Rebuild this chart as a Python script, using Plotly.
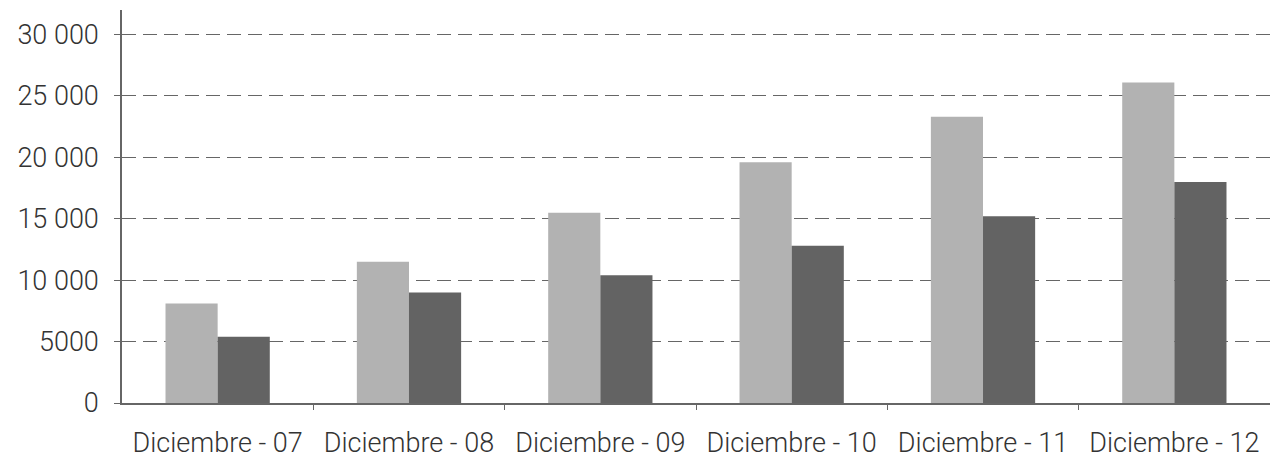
import plotly.graph_objects as go

categories = ["Diciembre - 07", "Diciembre - 08", "Diciembre - 09",
              "Diciembre - 10", "Diciembre - 11", "Diciembre - 12"]
series_light = [8100, 11500, 15500, 19600, 23300, 26100]
series_dark = [5400, 9000, 10400, 12800, 15200, 18000]
ytick_vals = [0, 5000, 10000, 15000, 20000, 25000, 30000]
ytick_text = ["0", "5000", "10 000", "15 000", "20 000", "25 000", "30 000"]

fig = go.Figure()
fig.add_trace(go.Bar(x=categories, y=series_light, marker=dict(color="#b2b2b2", line=dict(width=0)), name="A"))
fig.add_trace(go.Bar(x=categories, y=series_dark, marker=dict(color="#636363", line=dict(width=0)), name="B"))

fig.update_layout(
    width=1274, height=458,
    margin=dict(l=122, r=4, t=10, b=55),
    paper_bgcolor="white", plot_bgcolor="white",
    barmode="group", bargap=0.455, bargroupgap=0,
    showlegend=False,
    font=dict(family="Roboto, Liberation Sans, Arial, sans-serif", size=27, color="#333333", weight=300),
)
fig.update_xaxes(
    range=[-0.4999, 5.4999], automargin=False,
    showline=True, linecolor="#666666", linewidth=1.5,
    ticks="outside", tickson="boundaries", ticklen=5, tickcolor="#666666",
    showgrid=False, ticklabelstandoff=15,
)
fig.update_yaxes(
    range=[0, 32000], tickvals=ytick_vals, ticktext=ytick_text, automargin=False,
    showline=True, linecolor="#666666", linewidth=1.5,
    ticks="outside", ticklen=6, tickcolor="#666666",
    showgrid=True, gridcolor="#666666", gridwidth=1.2, griddash="14px,7px",
    ticklabelstandoff=10, zeroline=False,
)
fig.write_html("out.html")
